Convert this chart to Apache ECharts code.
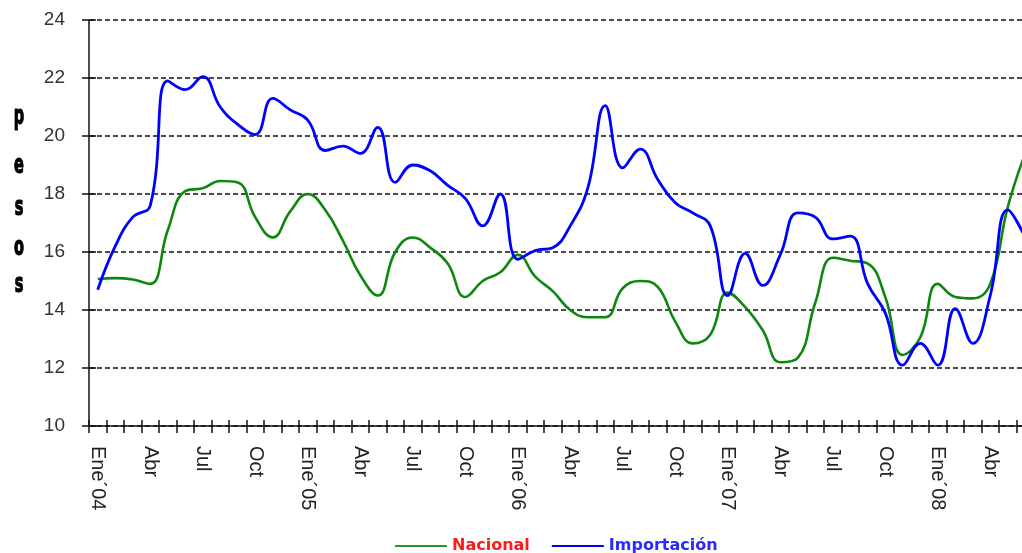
<!DOCTYPE html>
<html>
<head>
<meta charset="utf-8">
<script src="https://cdn.jsdelivr.net/npm/echarts@6/dist/echarts.min.js"></script>
<style>
  html, body { margin: 0; padding: 0; background: #ffffff; }
  #chart { width: 1022px; height: 553px; }
</style>
</head>
<body>
<div id="chart"></div>
<script>
// Monthly price series, Ene 2004 – Jun 2008 (pesos)
const monthNames = ['Ene', 'Feb', 'Mar', 'Abr', 'May', 'Jun', 'Jul', 'Ago', 'Sep', 'Oct', 'Nov', 'Dic'];
const years = ['04', '05', '06', '07', '08'];
const monthCount = 54;

const nacional = [
  15.07, 15.1, 15.05, 14.9, 16.75, 18.1, 18.2, 18.45, 18.4, 17.2, 16.5, 17.4,
  18.0, 17.45, 16.4, 15.2, 14.5, 16.0, 16.5, 16.15, 15.6, 14.45, 15.0, 15.3,
  15.9, 15.15, 14.65, 14.0, 13.75, 13.75, 14.75, 15.0, 14.8, 13.6, 12.85, 13.15,
  14.6, 14.1, 13.3, 12.2, 12.35, 14.25, 15.8, 15.7, 15.6, 14.45, 12.45, 13.05,
  14.9, 14.45, 14.4, 14.9, 17.55, 19.4
];

const importacion = [
  14.7, 16.2, 17.2, 17.6, 21.9, 21.6, 22.05, 21.0, 20.4, 20.05, 21.3, 20.9,
  20.55, 19.5, 19.65, 19.4, 20.3, 18.4, 19.0, 18.8, 18.3, 17.85, 16.9, 18.0,
  15.75, 16.05, 16.15, 16.9, 18.2, 21.05, 18.9, 19.55, 18.5, 17.7, 17.35, 16.9,
  14.5, 15.95, 14.85, 15.9, 17.35, 17.2, 16.45, 16.55, 14.9, 13.9, 12.1, 12.85,
  12.1, 14.05, 12.85, 14.5, 17.45, 16.5
];

// Category labels: January carries the year ("Ene´04"), other months just the name
const categories = [];
for (let i = 0; i < monthCount; i++) {
  const m = i % 12;
  categories.push(m === 0 ? monthNames[m] + '´' + years[Math.floor(i / 12)] : monthNames[m]);
}

const yTicks = { min: 10, max: 24, interval: 2 };
const axisTitle = ['p', 'e', 's', 'o', 's'];
const axisTitleY = [117, 166, 208, 248, 285];

const chart = echarts.init(document.getElementById('chart'), null, { renderer: 'canvas' });

chart.setOption({
  backgroundColor: '#ffffff',
  animation: false,
  // the plot runs slightly past the right edge of the page
  grid: { left: 89, top: 20, right: -12, bottom: 127, outerBoundsMode: 'none', containLabel: false },
  xAxis: [
    {
      type: 'category',
      data: categories,
      boundaryGap: true,
      axisLine: { lineStyle: { color: '#111', width: 1.5 } },
      axisTick: { show: true, interval: 0, length: 7, lineStyle: { color: '#111', width: 1.5 } },
      axisLabel: {
        interval: 2,
        rotate: -90,
        margin: 20,
        color: '#222',
        fontFamily: 'Liberation Sans, Arial, sans-serif',
        fontSize: 20
      },
      splitLine: { show: false }
    },
    {
      // inner half of the crossing tick marks
      type: 'category',
      data: categories,
      position: 'bottom',
      boundaryGap: true,
      axisLine: { show: false },
      axisTick: { show: true, inside: true, interval: 0, length: 6, lineStyle: { color: '#111', width: 1.5 } },
      axisLabel: { show: false },
      splitLine: { show: false }
    }
  ],
  yAxis: [
    {
      type: 'value',
      min: yTicks.min,
      max: yTicks.max,
      interval: yTicks.interval,
      axisLine: { show: true, lineStyle: { color: '#111', width: 1.5 } },
      axisTick: { show: true, length: 7, lineStyle: { color: '#111', width: 1.5 } },
      axisLabel: {
        margin: 24,
        color: '#333',
        fontFamily: 'Liberation Sans, Arial, sans-serif',
        fontSize: 19
      },
      splitLine: { show: true, lineStyle: { color: '#111', width: 1.5, type: [5, 3] } }
    },
    {
      type: 'value',
      position: 'left',
      min: yTicks.min,
      max: yTicks.max,
      interval: yTicks.interval,
      axisLine: { show: false },
      axisTick: { show: true, inside: true, length: 7, lineStyle: { color: '#111', width: 1.5 } },
      axisLabel: { show: false },
      splitLine: { show: false }
    }
  ],
  legend: {
    left: 390,
    top: 533,
    icon: 'rect',
    itemWidth: 52,
    itemHeight: 2,
    itemGap: 22,
    textStyle: {
      fontFamily: 'DejaVu Sans, Verdana, sans-serif',
      fontWeight: 'bold',
      fontSize: 16
    },
    data: [
      { name: 'Nacional', textStyle: { color: '#ff1a1a' } },
      { name: 'Importación', textStyle: { color: '#2a2aff' } }
    ]
  },
  // axis title "pesos", one condensed bold letter per line
  graphic: axisTitle.map((ch, i) => ({
    type: 'text',
    x: 19,
    y: axisTitleY[i],
    scaleX: 0.56,
    style: {
      text: ch,
      fill: '#000',
      stroke: '#000',
      lineWidth: 1.2,
      align: 'center',
      verticalAlign: 'middle',
      font: 'bold 26px "DejaVu Sans", sans-serif'
    }
  })),
  series: [
    {
      name: 'Nacional',
      type: 'line',
      data: nacional,
      smooth: 0.45,
      symbol: 'none',
      lineStyle: { color: '#0f870f', width: 2.6 },
      itemStyle: { color: '#2a952a' }
    },
    {
      name: 'Importación',
      type: 'line',
      data: importacion,
      smooth: 0.45,
      symbol: 'none',
      lineStyle: { color: '#0000ff', width: 2.8 },
      itemStyle: { color: '#0000ff' }
    }
  ]
});
</script>
</body>
</html>
